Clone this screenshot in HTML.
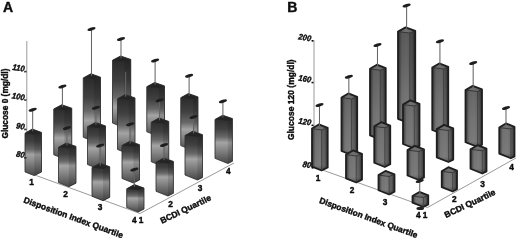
<!DOCTYPE html>
<html><head><meta charset="utf-8"><title>Figure</title>
<style>html,body{margin:0;padding:0;background:#fff}body{width:520px;height:243px;overflow:hidden}svg{display:block}</style>
</head><body>
<svg width="520" height="243" viewBox="0 0 520 243">
<defs>
<linearGradient id="edge" x1="0" y1="0" x2="1" y2="0"><stop offset="0" stop-color="#000" stop-opacity="0.55"/><stop offset="0.22" stop-color="#000" stop-opacity="0.05"/><stop offset="0.5" stop-color="#000" stop-opacity="0"/><stop offset="0.8" stop-color="#000" stop-opacity="0.1"/><stop offset="1" stop-color="#000" stop-opacity="0.5"/></linearGradient>
<linearGradient id="a14L" gradientUnits="userSpaceOnUse" x1="0" y1="56" x2="0" y2="127.75"><stop offset="0" stop-color="#262626"/><stop offset="0.35" stop-color="#404040"/><stop offset="0.57" stop-color="#686868"/><stop offset="0.71" stop-color="#a4a4a4"/><stop offset="0.84" stop-color="#7c7c7c"/><stop offset="1" stop-color="#484848"/></linearGradient>
<linearGradient id="a14R" gradientUnits="userSpaceOnUse" x1="0" y1="56" x2="0" y2="127.75"><stop offset="0" stop-color="#212121"/><stop offset="0.35" stop-color="#383838"/><stop offset="0.57" stop-color="#5a5a5a"/><stop offset="0.71" stop-color="#8f8f8f"/><stop offset="0.84" stop-color="#6c6c6c"/><stop offset="1" stop-color="#3f3f3f"/></linearGradient>
<linearGradient id="a13L" gradientUnits="userSpaceOnUse" x1="0" y1="73.75" x2="0" y2="141.5"><stop offset="0" stop-color="#262626"/><stop offset="0.35" stop-color="#404040"/><stop offset="0.55" stop-color="#686868"/><stop offset="0.69" stop-color="#a4a4a4"/><stop offset="0.83" stop-color="#7c7c7c"/><stop offset="1" stop-color="#484848"/></linearGradient>
<linearGradient id="a13R" gradientUnits="userSpaceOnUse" x1="0" y1="73.75" x2="0" y2="141.5"><stop offset="0" stop-color="#212121"/><stop offset="0.35" stop-color="#383838"/><stop offset="0.55" stop-color="#5a5a5a"/><stop offset="0.69" stop-color="#8f8f8f"/><stop offset="0.83" stop-color="#6c6c6c"/><stop offset="1" stop-color="#3f3f3f"/></linearGradient>
<linearGradient id="a24L" gradientUnits="userSpaceOnUse" x1="0" y1="82.5" x2="0" y2="136.5"><stop offset="0" stop-color="#262626"/><stop offset="0.31" stop-color="#404040"/><stop offset="0.49" stop-color="#686868"/><stop offset="0.61" stop-color="#a4a4a4"/><stop offset="0.79" stop-color="#7c7c7c"/><stop offset="1" stop-color="#484848"/></linearGradient>
<linearGradient id="a24R" gradientUnits="userSpaceOnUse" x1="0" y1="82.5" x2="0" y2="136.5"><stop offset="0" stop-color="#212121"/><stop offset="0.31" stop-color="#383838"/><stop offset="0.49" stop-color="#5a5a5a"/><stop offset="0.61" stop-color="#8f8f8f"/><stop offset="0.79" stop-color="#6c6c6c"/><stop offset="1" stop-color="#3f3f3f"/></linearGradient>
<linearGradient id="a12L" gradientUnits="userSpaceOnUse" x1="0" y1="104.75" x2="0" y2="159"><stop offset="0" stop-color="#262626"/><stop offset="0.31" stop-color="#404040"/><stop offset="0.49" stop-color="#686868"/><stop offset="0.61" stop-color="#a4a4a4"/><stop offset="0.79" stop-color="#7c7c7c"/><stop offset="1" stop-color="#484848"/></linearGradient>
<linearGradient id="a12R" gradientUnits="userSpaceOnUse" x1="0" y1="104.75" x2="0" y2="159"><stop offset="0" stop-color="#212121"/><stop offset="0.31" stop-color="#383838"/><stop offset="0.49" stop-color="#5a5a5a"/><stop offset="0.61" stop-color="#8f8f8f"/><stop offset="0.79" stop-color="#6c6c6c"/><stop offset="1" stop-color="#3f3f3f"/></linearGradient>
<linearGradient id="a23L" gradientUnits="userSpaceOnUse" x1="0" y1="94.5" x2="0" y2="154"><stop offset="0" stop-color="#262626"/><stop offset="0.32" stop-color="#404040"/><stop offset="0.52" stop-color="#686868"/><stop offset="0.65" stop-color="#a4a4a4"/><stop offset="0.81" stop-color="#7c7c7c"/><stop offset="1" stop-color="#484848"/></linearGradient>
<linearGradient id="a23R" gradientUnits="userSpaceOnUse" x1="0" y1="94.5" x2="0" y2="154"><stop offset="0" stop-color="#212121"/><stop offset="0.32" stop-color="#383838"/><stop offset="0.52" stop-color="#5a5a5a"/><stop offset="0.65" stop-color="#8f8f8f"/><stop offset="0.81" stop-color="#6c6c6c"/><stop offset="1" stop-color="#3f3f3f"/></linearGradient>
<linearGradient id="a34L" gradientUnits="userSpaceOnUse" x1="0" y1="93.5" x2="0" y2="150.5"><stop offset="0" stop-color="#262626"/><stop offset="0.32" stop-color="#404040"/><stop offset="0.51" stop-color="#686868"/><stop offset="0.63" stop-color="#a4a4a4"/><stop offset="0.8" stop-color="#7c7c7c"/><stop offset="1" stop-color="#484848"/></linearGradient>
<linearGradient id="a34R" gradientUnits="userSpaceOnUse" x1="0" y1="93.5" x2="0" y2="150.5"><stop offset="0" stop-color="#212121"/><stop offset="0.32" stop-color="#383838"/><stop offset="0.51" stop-color="#5a5a5a"/><stop offset="0.63" stop-color="#8f8f8f"/><stop offset="0.8" stop-color="#6c6c6c"/><stop offset="1" stop-color="#3f3f3f"/></linearGradient>
<linearGradient id="a11L" gradientUnits="userSpaceOnUse" x1="0" y1="129" x2="0" y2="175.6"><stop offset="0" stop-color="#262626"/><stop offset="0.27" stop-color="#404040"/><stop offset="0.44" stop-color="#686868"/><stop offset="0.55" stop-color="#a4a4a4"/><stop offset="0.75" stop-color="#7c7c7c"/><stop offset="1" stop-color="#484848"/></linearGradient>
<linearGradient id="a11R" gradientUnits="userSpaceOnUse" x1="0" y1="129" x2="0" y2="175.6"><stop offset="0" stop-color="#212121"/><stop offset="0.27" stop-color="#383838"/><stop offset="0.44" stop-color="#5a5a5a"/><stop offset="0.55" stop-color="#8f8f8f"/><stop offset="0.75" stop-color="#6c6c6c"/><stop offset="1" stop-color="#3f3f3f"/></linearGradient>
<linearGradient id="a22L" gradientUnits="userSpaceOnUse" x1="0" y1="122.5" x2="0" y2="169"><stop offset="0" stop-color="#262626"/><stop offset="0.27" stop-color="#404040"/><stop offset="0.44" stop-color="#686868"/><stop offset="0.55" stop-color="#a4a4a4"/><stop offset="0.75" stop-color="#7c7c7c"/><stop offset="1" stop-color="#484848"/></linearGradient>
<linearGradient id="a22R" gradientUnits="userSpaceOnUse" x1="0" y1="122.5" x2="0" y2="169"><stop offset="0" stop-color="#212121"/><stop offset="0.27" stop-color="#383838"/><stop offset="0.44" stop-color="#5a5a5a"/><stop offset="0.55" stop-color="#8f8f8f"/><stop offset="0.75" stop-color="#6c6c6c"/><stop offset="1" stop-color="#3f3f3f"/></linearGradient>
<linearGradient id="a33L" gradientUnits="userSpaceOnUse" x1="0" y1="118" x2="0" y2="166.5"><stop offset="0" stop-color="#262626"/><stop offset="0.28" stop-color="#404040"/><stop offset="0.45" stop-color="#686868"/><stop offset="0.57" stop-color="#a4a4a4"/><stop offset="0.76" stop-color="#7c7c7c"/><stop offset="1" stop-color="#484848"/></linearGradient>
<linearGradient id="a33R" gradientUnits="userSpaceOnUse" x1="0" y1="118" x2="0" y2="166.5"><stop offset="0" stop-color="#212121"/><stop offset="0.28" stop-color="#383838"/><stop offset="0.45" stop-color="#5a5a5a"/><stop offset="0.57" stop-color="#8f8f8f"/><stop offset="0.76" stop-color="#6c6c6c"/><stop offset="1" stop-color="#3f3f3f"/></linearGradient>
<linearGradient id="a44L" gradientUnits="userSpaceOnUse" x1="0" y1="115.2" x2="0" y2="163.5"><stop offset="0" stop-color="#262626"/><stop offset="0.28" stop-color="#404040"/><stop offset="0.45" stop-color="#686868"/><stop offset="0.57" stop-color="#a4a4a4"/><stop offset="0.76" stop-color="#7c7c7c"/><stop offset="1" stop-color="#484848"/></linearGradient>
<linearGradient id="a44R" gradientUnits="userSpaceOnUse" x1="0" y1="115.2" x2="0" y2="163.5"><stop offset="0" stop-color="#212121"/><stop offset="0.28" stop-color="#383838"/><stop offset="0.45" stop-color="#5a5a5a"/><stop offset="0.57" stop-color="#8f8f8f"/><stop offset="0.76" stop-color="#6c6c6c"/><stop offset="1" stop-color="#3f3f3f"/></linearGradient>
<linearGradient id="a21L" gradientUnits="userSpaceOnUse" x1="0" y1="143" x2="0" y2="186.7"><stop offset="0" stop-color="#262626"/><stop offset="0.26" stop-color="#404040"/><stop offset="0.42" stop-color="#686868"/><stop offset="0.52" stop-color="#a4a4a4"/><stop offset="0.74" stop-color="#7c7c7c"/><stop offset="1" stop-color="#484848"/></linearGradient>
<linearGradient id="a21R" gradientUnits="userSpaceOnUse" x1="0" y1="143" x2="0" y2="186.7"><stop offset="0" stop-color="#212121"/><stop offset="0.26" stop-color="#383838"/><stop offset="0.42" stop-color="#5a5a5a"/><stop offset="0.52" stop-color="#8f8f8f"/><stop offset="0.74" stop-color="#6c6c6c"/><stop offset="1" stop-color="#3f3f3f"/></linearGradient>
<linearGradient id="a32L" gradientUnits="userSpaceOnUse" x1="0" y1="141.25" x2="0" y2="183"><stop offset="0" stop-color="#262626"/><stop offset="0.25" stop-color="#404040"/><stop offset="0.4" stop-color="#686868"/><stop offset="0.5" stop-color="#a4a4a4"/><stop offset="0.72" stop-color="#7c7c7c"/><stop offset="1" stop-color="#484848"/></linearGradient>
<linearGradient id="a32R" gradientUnits="userSpaceOnUse" x1="0" y1="141.25" x2="0" y2="183"><stop offset="0" stop-color="#212121"/><stop offset="0.25" stop-color="#383838"/><stop offset="0.4" stop-color="#5a5a5a"/><stop offset="0.5" stop-color="#8f8f8f"/><stop offset="0.72" stop-color="#6c6c6c"/><stop offset="1" stop-color="#3f3f3f"/></linearGradient>
<linearGradient id="a43L" gradientUnits="userSpaceOnUse" x1="0" y1="131.25" x2="0" y2="180"><stop offset="0" stop-color="#262626"/><stop offset="0.28" stop-color="#404040"/><stop offset="0.46" stop-color="#686868"/><stop offset="0.57" stop-color="#a4a4a4"/><stop offset="0.76" stop-color="#7c7c7c"/><stop offset="1" stop-color="#484848"/></linearGradient>
<linearGradient id="a43R" gradientUnits="userSpaceOnUse" x1="0" y1="131.25" x2="0" y2="180"><stop offset="0" stop-color="#212121"/><stop offset="0.28" stop-color="#383838"/><stop offset="0.46" stop-color="#5a5a5a"/><stop offset="0.57" stop-color="#8f8f8f"/><stop offset="0.76" stop-color="#6c6c6c"/><stop offset="1" stop-color="#3f3f3f"/></linearGradient>
<linearGradient id="a31L" gradientUnits="userSpaceOnUse" x1="0" y1="163.3" x2="0" y2="200.7"><stop offset="0" stop-color="#262626"/><stop offset="0.25" stop-color="#404040"/><stop offset="0.4" stop-color="#686868"/><stop offset="0.5" stop-color="#a4a4a4"/><stop offset="0.72" stop-color="#7c7c7c"/><stop offset="1" stop-color="#484848"/></linearGradient>
<linearGradient id="a31R" gradientUnits="userSpaceOnUse" x1="0" y1="163.3" x2="0" y2="200.7"><stop offset="0" stop-color="#212121"/><stop offset="0.25" stop-color="#383838"/><stop offset="0.4" stop-color="#5a5a5a"/><stop offset="0.5" stop-color="#8f8f8f"/><stop offset="0.72" stop-color="#6c6c6c"/><stop offset="1" stop-color="#3f3f3f"/></linearGradient>
<linearGradient id="a42L" gradientUnits="userSpaceOnUse" x1="0" y1="158" x2="0" y2="196"><stop offset="0" stop-color="#262626"/><stop offset="0.25" stop-color="#404040"/><stop offset="0.4" stop-color="#686868"/><stop offset="0.5" stop-color="#a4a4a4"/><stop offset="0.72" stop-color="#7c7c7c"/><stop offset="1" stop-color="#484848"/></linearGradient>
<linearGradient id="a42R" gradientUnits="userSpaceOnUse" x1="0" y1="158" x2="0" y2="196"><stop offset="0" stop-color="#212121"/><stop offset="0.25" stop-color="#383838"/><stop offset="0.4" stop-color="#5a5a5a"/><stop offset="0.5" stop-color="#8f8f8f"/><stop offset="0.72" stop-color="#6c6c6c"/><stop offset="1" stop-color="#3f3f3f"/></linearGradient>
<linearGradient id="a41L" gradientUnits="userSpaceOnUse" x1="0" y1="184.6" x2="0" y2="212"><stop offset="0" stop-color="#262626"/><stop offset="0.25" stop-color="#404040"/><stop offset="0.4" stop-color="#686868"/><stop offset="0.5" stop-color="#a4a4a4"/><stop offset="0.72" stop-color="#7c7c7c"/><stop offset="1" stop-color="#484848"/></linearGradient>
<linearGradient id="a41R" gradientUnits="userSpaceOnUse" x1="0" y1="184.6" x2="0" y2="212"><stop offset="0" stop-color="#212121"/><stop offset="0.25" stop-color="#383838"/><stop offset="0.4" stop-color="#5a5a5a"/><stop offset="0.5" stop-color="#8f8f8f"/><stop offset="0.72" stop-color="#6c6c6c"/><stop offset="1" stop-color="#3f3f3f"/></linearGradient>
<linearGradient id="b14L" gradientUnits="userSpaceOnUse" x1="0" y1="27.4" x2="0" y2="123.5"><stop offset="0" stop-color="#484848"/><stop offset="0.04" stop-color="#5b5b5b"/><stop offset="0.38" stop-color="#666666"/><stop offset="0.69" stop-color="#747474"/><stop offset="0.95" stop-color="#7c7c7c"/><stop offset="1" stop-color="#545454"/></linearGradient>
<linearGradient id="b14R" gradientUnits="userSpaceOnUse" x1="0" y1="27.4" x2="0" y2="123.5"><stop offset="0" stop-color="#3e3e3e"/><stop offset="0.04" stop-color="#4e4e4e"/><stop offset="0.38" stop-color="#585858"/><stop offset="0.69" stop-color="#646464"/><stop offset="0.95" stop-color="#6b6b6b"/><stop offset="1" stop-color="#484848"/></linearGradient>
<linearGradient id="b13L" gradientUnits="userSpaceOnUse" x1="0" y1="64.65" x2="0" y2="139.5"><stop offset="0" stop-color="#484848"/><stop offset="0.05" stop-color="#626262"/><stop offset="0.2" stop-color="#666666"/><stop offset="0.6" stop-color="#747474"/><stop offset="0.93" stop-color="#7c7c7c"/><stop offset="1" stop-color="#545454"/></linearGradient>
<linearGradient id="b13R" gradientUnits="userSpaceOnUse" x1="0" y1="64.65" x2="0" y2="139.5"><stop offset="0" stop-color="#3e3e3e"/><stop offset="0.05" stop-color="#545454"/><stop offset="0.2" stop-color="#585858"/><stop offset="0.6" stop-color="#646464"/><stop offset="0.93" stop-color="#6b6b6b"/><stop offset="1" stop-color="#484848"/></linearGradient>
<linearGradient id="b24L" gradientUnits="userSpaceOnUse" x1="0" y1="63.4" x2="0" y2="134.5"><stop offset="0" stop-color="#484848"/><stop offset="0.06" stop-color="#646464"/><stop offset="0.16" stop-color="#666666"/><stop offset="0.58" stop-color="#747474"/><stop offset="0.93" stop-color="#7c7c7c"/><stop offset="1" stop-color="#545454"/></linearGradient>
<linearGradient id="b24R" gradientUnits="userSpaceOnUse" x1="0" y1="63.4" x2="0" y2="134.5"><stop offset="0" stop-color="#3e3e3e"/><stop offset="0.06" stop-color="#565656"/><stop offset="0.16" stop-color="#585858"/><stop offset="0.58" stop-color="#646464"/><stop offset="0.93" stop-color="#6b6b6b"/><stop offset="1" stop-color="#484848"/></linearGradient>
<linearGradient id="b12L" gradientUnits="userSpaceOnUse" x1="0" y1="93.4" x2="0" y2="155"><stop offset="0" stop-color="#484848"/><stop offset="0.03" stop-color="#666666"/><stop offset="0.06" stop-color="#676767"/><stop offset="0.51" stop-color="#747474"/><stop offset="0.92" stop-color="#7c7c7c"/><stop offset="1" stop-color="#545454"/></linearGradient>
<linearGradient id="b12R" gradientUnits="userSpaceOnUse" x1="0" y1="93.4" x2="0" y2="155"><stop offset="0" stop-color="#3e3e3e"/><stop offset="0.03" stop-color="#585858"/><stop offset="0.06" stop-color="#595959"/><stop offset="0.51" stop-color="#646464"/><stop offset="0.92" stop-color="#6b6b6b"/><stop offset="1" stop-color="#484848"/></linearGradient>
<linearGradient id="b23L" gradientUnits="userSpaceOnUse" x1="0" y1="100.4" x2="0" y2="148.5"><stop offset="0" stop-color="#484848"/><stop offset="0.08" stop-color="#6d6d6d"/><stop offset="0.38" stop-color="#747474"/><stop offset="0.9" stop-color="#7c7c7c"/><stop offset="1" stop-color="#545454"/></linearGradient>
<linearGradient id="b23R" gradientUnits="userSpaceOnUse" x1="0" y1="100.4" x2="0" y2="148.5"><stop offset="0" stop-color="#3e3e3e"/><stop offset="0.08" stop-color="#5e5e5e"/><stop offset="0.38" stop-color="#646464"/><stop offset="0.9" stop-color="#6b6b6b"/><stop offset="1" stop-color="#484848"/></linearGradient>
<linearGradient id="b34L" gradientUnits="userSpaceOnUse" x1="0" y1="85.9" x2="0" y2="147"><stop offset="0" stop-color="#484848"/><stop offset="0.02" stop-color="#666666"/><stop offset="0.07" stop-color="#676767"/><stop offset="0.51" stop-color="#747474"/><stop offset="0.92" stop-color="#7c7c7c"/><stop offset="1" stop-color="#545454"/></linearGradient>
<linearGradient id="b34R" gradientUnits="userSpaceOnUse" x1="0" y1="85.9" x2="0" y2="147"><stop offset="0" stop-color="#3e3e3e"/><stop offset="0.02" stop-color="#585858"/><stop offset="0.07" stop-color="#595959"/><stop offset="0.51" stop-color="#646464"/><stop offset="0.92" stop-color="#6b6b6b"/><stop offset="1" stop-color="#484848"/></linearGradient>
<linearGradient id="b11L" gradientUnits="userSpaceOnUse" x1="0" y1="124.4" x2="0" y2="170.5"><stop offset="0" stop-color="#484848"/><stop offset="0.09" stop-color="#6e6e6e"/><stop offset="0.35" stop-color="#747474"/><stop offset="0.89" stop-color="#7c7c7c"/><stop offset="1" stop-color="#545454"/></linearGradient>
<linearGradient id="b11R" gradientUnits="userSpaceOnUse" x1="0" y1="124.4" x2="0" y2="170.5"><stop offset="0" stop-color="#3e3e3e"/><stop offset="0.09" stop-color="#5f5f5f"/><stop offset="0.35" stop-color="#646464"/><stop offset="0.89" stop-color="#6b6b6b"/><stop offset="1" stop-color="#484848"/></linearGradient>
<linearGradient id="b22L" gradientUnits="userSpaceOnUse" x1="0" y1="122.15" x2="0" y2="167"><stop offset="0" stop-color="#484848"/><stop offset="0.09" stop-color="#6f6f6f"/><stop offset="0.33" stop-color="#747474"/><stop offset="0.89" stop-color="#7c7c7c"/><stop offset="1" stop-color="#545454"/></linearGradient>
<linearGradient id="b22R" gradientUnits="userSpaceOnUse" x1="0" y1="122.15" x2="0" y2="167"><stop offset="0" stop-color="#3e3e3e"/><stop offset="0.09" stop-color="#5f5f5f"/><stop offset="0.33" stop-color="#646464"/><stop offset="0.89" stop-color="#6b6b6b"/><stop offset="1" stop-color="#484848"/></linearGradient>
<linearGradient id="b33L" gradientUnits="userSpaceOnUse" x1="0" y1="124.9" x2="0" y2="162"><stop offset="0" stop-color="#484848"/><stop offset="0.11" stop-color="#737373"/><stop offset="0.19" stop-color="#747474"/><stop offset="0.87" stop-color="#7c7c7c"/><stop offset="1" stop-color="#545454"/></linearGradient>
<linearGradient id="b33R" gradientUnits="userSpaceOnUse" x1="0" y1="124.9" x2="0" y2="162"><stop offset="0" stop-color="#3e3e3e"/><stop offset="0.11" stop-color="#636363"/><stop offset="0.19" stop-color="#646464"/><stop offset="0.87" stop-color="#6b6b6b"/><stop offset="1" stop-color="#484848"/></linearGradient>
<linearGradient id="b44L" gradientUnits="userSpaceOnUse" x1="0" y1="123.4" x2="0" y2="158.25"><stop offset="0" stop-color="#484848"/><stop offset="0.11" stop-color="#747474"/><stop offset="0.14" stop-color="#747474"/><stop offset="0.86" stop-color="#7c7c7c"/><stop offset="1" stop-color="#545454"/></linearGradient>
<linearGradient id="b44R" gradientUnits="userSpaceOnUse" x1="0" y1="123.4" x2="0" y2="158.25"><stop offset="0" stop-color="#3e3e3e"/><stop offset="0.11" stop-color="#636363"/><stop offset="0.14" stop-color="#646464"/><stop offset="0.86" stop-color="#6b6b6b"/><stop offset="1" stop-color="#484848"/></linearGradient>
<linearGradient id="b21L" gradientUnits="userSpaceOnUse" x1="0" y1="150.4" x2="0" y2="182.5"><stop offset="0" stop-color="#484848"/><stop offset="0.07" stop-color="#747474"/><stop offset="0.12" stop-color="#757575"/><stop offset="0.84" stop-color="#7c7c7c"/><stop offset="1" stop-color="#545454"/></linearGradient>
<linearGradient id="b21R" gradientUnits="userSpaceOnUse" x1="0" y1="150.4" x2="0" y2="182.5"><stop offset="0" stop-color="#3e3e3e"/><stop offset="0.07" stop-color="#646464"/><stop offset="0.12" stop-color="#646464"/><stop offset="0.84" stop-color="#6b6b6b"/><stop offset="1" stop-color="#484848"/></linearGradient>
<linearGradient id="b32L" gradientUnits="userSpaceOnUse" x1="0" y1="145.9" x2="0" y2="180"><stop offset="0" stop-color="#484848"/><stop offset="0.12" stop-color="#747474"/><stop offset="0.12" stop-color="#747474"/><stop offset="0.85" stop-color="#7c7c7c"/><stop offset="1" stop-color="#545454"/></linearGradient>
<linearGradient id="b32R" gradientUnits="userSpaceOnUse" x1="0" y1="145.9" x2="0" y2="180"><stop offset="0" stop-color="#3e3e3e"/><stop offset="0.12" stop-color="#646464"/><stop offset="0.12" stop-color="#646464"/><stop offset="0.85" stop-color="#6b6b6b"/><stop offset="1" stop-color="#484848"/></linearGradient>
<linearGradient id="b43L" gradientUnits="userSpaceOnUse" x1="0" y1="145.15" x2="0" y2="173.5"><stop offset="0" stop-color="#484848"/><stop offset="0.14" stop-color="#767676"/><stop offset="0.82" stop-color="#7c7c7c"/><stop offset="1" stop-color="#545454"/></linearGradient>
<linearGradient id="b43R" gradientUnits="userSpaceOnUse" x1="0" y1="145.15" x2="0" y2="173.5"><stop offset="0" stop-color="#3e3e3e"/><stop offset="0.14" stop-color="#656565"/><stop offset="0.82" stop-color="#6b6b6b"/><stop offset="1" stop-color="#484848"/></linearGradient>
<linearGradient id="b31L" gradientUnits="userSpaceOnUse" x1="0" y1="170.9" x2="0" y2="194.5"><stop offset="0" stop-color="#484848"/><stop offset="0.17" stop-color="#777777"/><stop offset="0.79" stop-color="#7c7c7c"/><stop offset="1" stop-color="#545454"/></linearGradient>
<linearGradient id="b31R" gradientUnits="userSpaceOnUse" x1="0" y1="170.9" x2="0" y2="194.5"><stop offset="0" stop-color="#3e3e3e"/><stop offset="0.17" stop-color="#676767"/><stop offset="0.79" stop-color="#6b6b6b"/><stop offset="1" stop-color="#484848"/></linearGradient>
<linearGradient id="b42L" gradientUnits="userSpaceOnUse" x1="0" y1="167.15" x2="0" y2="191.5"><stop offset="0" stop-color="#484848"/><stop offset="0.16" stop-color="#777777"/><stop offset="0.79" stop-color="#7c7c7c"/><stop offset="1" stop-color="#545454"/></linearGradient>
<linearGradient id="b42R" gradientUnits="userSpaceOnUse" x1="0" y1="167.15" x2="0" y2="191.5"><stop offset="0" stop-color="#3e3e3e"/><stop offset="0.16" stop-color="#666666"/><stop offset="0.79" stop-color="#6b6b6b"/><stop offset="1" stop-color="#484848"/></linearGradient>
<linearGradient id="b41L" gradientUnits="userSpaceOnUse" x1="0" y1="191.9" x2="0" y2="207"><stop offset="0" stop-color="#484848"/><stop offset="0.26" stop-color="#7a7a7a"/><stop offset="0.67" stop-color="#7c7c7c"/><stop offset="1" stop-color="#545454"/></linearGradient>
<linearGradient id="b41R" gradientUnits="userSpaceOnUse" x1="0" y1="191.9" x2="0" y2="207"><stop offset="0" stop-color="#3e3e3e"/><stop offset="0.26" stop-color="#696969"/><stop offset="0.67" stop-color="#6b6b6b"/><stop offset="1" stop-color="#484848"/></linearGradient>
</defs>
<rect width="520" height="243" fill="#fff"/>
<g stroke="#9a9a9a" stroke-width="1" fill="none">
<line x1="26.8" y1="41" x2="26.8" y2="172"/>
<line x1="26.6" y1="172" x2="140" y2="213.5"/>
<line x1="140" y1="213.5" x2="234" y2="163"/>
<line x1="314" y1="40" x2="314" y2="167"/>
<line x1="314" y1="167" x2="427.5" y2="207.5"/>
<line x1="427.5" y1="207.5" x2="516" y2="158"/>
</g>
<polygon points="112.5,60.2 120.62,56 130.75,59.4 130.75,124.5 124.24,127.75 112.5,123.05" fill="url(#a14L)"/>
<polygon points="124.24,61.6 130.75,59.4 130.75,124.5 124.24,127.75" fill="url(#a14R)"/>
<polygon points="112.5,60.2 120.62,56 130.75,59.4 124.24,61.6" fill="#242424"/>
<polygon points="112.5,60.2 120.62,56 130.75,59.4 130.75,124.5 124.24,127.75 112.5,123.05" fill="none" stroke="#303030" stroke-opacity="0.85" stroke-width="1" stroke-linejoin="round"/>
<line x1="120.99" y1="39" x2="120.99" y2="58.2" stroke="#666" stroke-width="1.05"/>
<ellipse cx="120.99" cy="39" rx="4.2" ry="1.5" fill="#1e1e1e" transform="rotate(-18 120.99 39)"/>
<polygon points="83.25,77.95 90.88,73.75 100.5,77.15 100.5,138.18 93.87,141.5 83.25,137.25" fill="url(#a13L)"/>
<polygon points="93.87,79.35 100.5,77.15 100.5,138.18 93.87,141.5" fill="url(#a13R)"/>
<polygon points="83.25,77.95 90.88,73.75 100.5,77.15 93.87,79.35" fill="#242424"/>
<polygon points="83.25,77.95 90.88,73.75 100.5,77.15 100.5,138.18 93.87,141.5 83.25,137.25" fill="none" stroke="#303030" stroke-opacity="0.85" stroke-width="1" stroke-linejoin="round"/>
<line x1="91.49" y1="29" x2="91.49" y2="75.95" stroke="#666" stroke-width="1.05"/>
<ellipse cx="91.49" cy="29" rx="4.2" ry="1.5" fill="#1e1e1e" transform="rotate(-18 91.49 29)"/>
<polygon points="146.75,86.7 154.62,82.5 164.5,85.9 164.5,133.62 158.74,136.5 146.75,131.7" fill="url(#a24L)"/>
<polygon points="158.74,88.1 164.5,85.9 164.5,133.62 158.74,136.5" fill="url(#a24R)"/>
<polygon points="146.75,86.7 154.62,82.5 164.5,85.9 158.74,88.1" fill="#242424"/>
<polygon points="146.75,86.7 154.62,82.5 164.5,85.9 164.5,133.62 158.74,136.5 146.75,131.7" fill="none" stroke="#303030" stroke-opacity="0.85" stroke-width="1" stroke-linejoin="round"/>
<line x1="155.11" y1="60.5" x2="155.11" y2="84.7" stroke="#666" stroke-width="1.05"/>
<ellipse cx="155.11" cy="60.5" rx="4.2" ry="1.5" fill="#1e1e1e" transform="rotate(-18 155.11 60.5)"/>
<polygon points="53.75,108.95 61.75,104.75 71.75,108.15 71.75,155.29 64.33,159 53.75,154.77" fill="url(#a12L)"/>
<polygon points="64.33,110.35 71.75,108.15 71.75,155.29 64.33,159" fill="url(#a12R)"/>
<polygon points="53.75,108.95 61.75,104.75 71.75,108.15 64.33,110.35" fill="#242424"/>
<polygon points="53.75,108.95 61.75,104.75 71.75,108.15 71.75,155.29 64.33,159 53.75,154.77" fill="none" stroke="#303030" stroke-opacity="0.85" stroke-width="1" stroke-linejoin="round"/>
<line x1="62.42" y1="86.5" x2="62.42" y2="106.95" stroke="#666" stroke-width="1.05"/>
<ellipse cx="62.42" cy="86.5" rx="4.2" ry="1.5" fill="#1e1e1e" transform="rotate(-18 62.42 86.5)"/>
<polygon points="117.5,98.7 125.25,94.5 135,97.9 135,150.92 128.84,154 117.5,149.46" fill="url(#a23L)"/>
<polygon points="128.84,100.1 135,97.9 135,150.92 128.84,154" fill="url(#a23R)"/>
<polygon points="117.5,98.7 125.25,94.5 135,97.9 128.84,100.1" fill="#242424"/>
<polygon points="117.5,98.7 125.25,94.5 135,97.9 135,150.92 128.84,154 117.5,149.46" fill="none" stroke="#303030" stroke-opacity="0.85" stroke-width="1" stroke-linejoin="round"/>
<line x1="125.67" y1="71.75" x2="125.67" y2="96.7" stroke="#666" stroke-width="1.05"/>
<polygon points="180.75,97.7 188.38,93.5 198,96.9 198,147.98 192.96,150.5 180.75,145.62" fill="url(#a34L)"/>
<polygon points="192.96,99.1 198,96.9 198,147.98 192.96,150.5" fill="url(#a34R)"/>
<polygon points="180.75,97.7 188.38,93.5 198,96.9 192.96,99.1" fill="#242424"/>
<polygon points="180.75,97.7 188.38,93.5 198,96.9 198,147.98 192.96,150.5 180.75,145.62" fill="none" stroke="#303030" stroke-opacity="0.85" stroke-width="1" stroke-linejoin="round"/>
<line x1="189.11" y1="75.75" x2="189.11" y2="95.7" stroke="#666" stroke-width="1.05"/>
<ellipse cx="189.11" cy="75.75" rx="4.2" ry="1.5" fill="#1e1e1e" transform="rotate(-18 189.11 75.75)"/>
<polygon points="25,133.2 32.25,129 41.5,132.4 41.5,171.97 34.24,175.6 25,171.9" fill="url(#a11L)"/>
<polygon points="34.24,134.6 41.5,132.4 41.5,171.97 34.24,175.6" fill="url(#a11R)"/>
<polygon points="25,133.2 32.25,129 41.5,132.4 34.24,134.6" fill="#242424"/>
<polygon points="25,133.2 32.25,129 41.5,132.4 41.5,171.97 34.24,175.6 25,171.9" fill="none" stroke="#303030" stroke-opacity="0.85" stroke-width="1" stroke-linejoin="round"/>
<line x1="32.67" y1="109.75" x2="32.67" y2="131.2" stroke="#666" stroke-width="1.05"/>
<ellipse cx="32.67" cy="109.75" rx="4.2" ry="1.5" fill="#1e1e1e" transform="rotate(-18 32.67 109.75)"/>
<polygon points="87.5,126.7 95.5,122.5 105.5,125.9 105.5,165.58 98.66,169 87.5,164.54" fill="url(#a22L)"/>
<polygon points="98.66,128.1 105.5,125.9 105.5,165.58 98.66,169" fill="url(#a22R)"/>
<polygon points="87.5,126.7 95.5,122.5 105.5,125.9 98.66,128.1" fill="#242424"/>
<polygon points="87.5,126.7 95.5,122.5 105.5,125.9 105.5,165.58 98.66,169 87.5,164.54" fill="none" stroke="#303030" stroke-opacity="0.85" stroke-width="1" stroke-linejoin="round"/>
<line x1="95.92" y1="107.75" x2="95.92" y2="124.7" stroke="#666" stroke-width="1.05"/>
<ellipse cx="95.92" cy="107.75" rx="4.2" ry="1.5" fill="#1e1e1e" transform="rotate(-18 95.92 107.75)"/>
<polygon points="151.25,122.2 159,118 168.75,121.4 168.75,163.7 163.15,166.5 151.25,161.74" fill="url(#a33L)"/>
<polygon points="163.15,123.6 168.75,121.4 168.75,163.7 163.15,166.5" fill="url(#a33R)"/>
<polygon points="151.25,122.2 159,118 168.75,121.4 163.15,123.6" fill="#242424"/>
<polygon points="151.25,122.2 159,118 168.75,121.4 168.75,163.7 163.15,166.5 151.25,161.74" fill="none" stroke="#303030" stroke-opacity="0.85" stroke-width="1" stroke-linejoin="round"/>
<line x1="159.55" y1="100.25" x2="159.55" y2="120.2" stroke="#666" stroke-width="1.05"/>
<ellipse cx="159.55" cy="100.25" rx="4.2" ry="1.5" fill="#1e1e1e" transform="rotate(-18 159.55 100.25)"/>
<polygon points="215,119.4 222.7,115.2 232.4,118.6 232.4,161.24 227.88,163.5 215,158.35" fill="url(#a44L)"/>
<polygon points="227.88,120.8 232.4,118.6 232.4,161.24 227.88,163.5" fill="url(#a44R)"/>
<polygon points="215,119.4 222.7,115.2 232.4,118.6 227.88,120.8" fill="#242424"/>
<polygon points="215,119.4 222.7,115.2 232.4,118.6 232.4,161.24 227.88,163.5 215,158.35" fill="none" stroke="#303030" stroke-opacity="0.85" stroke-width="1" stroke-linejoin="round"/>
<line x1="222.9" y1="101.25" x2="222.9" y2="117.4" stroke="#666" stroke-width="1.05"/>
<ellipse cx="222.9" cy="101.25" rx="4.2" ry="1.5" fill="#1e1e1e" transform="rotate(-18 222.9 101.25)"/>
<polygon points="58.5,147.2 66.25,143 76,146.4 76,183.13 68.86,186.7 58.5,182.56" fill="url(#a21L)"/>
<polygon points="68.86,148.6 76,146.4 76,183.13 68.86,186.7" fill="url(#a21R)"/>
<polygon points="58.5,147.2 66.25,143 76,146.4 68.86,148.6" fill="#242424"/>
<polygon points="58.5,147.2 66.25,143 76,146.4 76,183.13 68.86,186.7 58.5,182.56" fill="none" stroke="#303030" stroke-opacity="0.85" stroke-width="1" stroke-linejoin="round"/>
<line x1="66.92" y1="128" x2="66.92" y2="145.2" stroke="#666" stroke-width="1.05"/>
<ellipse cx="66.92" cy="128" rx="4.2" ry="1.5" fill="#1e1e1e" transform="rotate(-18 66.92 128)"/>
<polygon points="122,145.45 129.75,141.25 139.5,144.65 139.5,179.96 133.41,183 122,178.43" fill="url(#a32L)"/>
<polygon points="133.41,146.85 139.5,144.65 139.5,179.96 133.41,183" fill="url(#a32R)"/>
<polygon points="122,145.45 129.75,141.25 139.5,144.65 133.41,146.85" fill="#242424"/>
<polygon points="122,145.45 129.75,141.25 139.5,144.65 139.5,179.96 133.41,183 122,178.43" fill="none" stroke="#303030" stroke-opacity="0.85" stroke-width="1" stroke-linejoin="round"/>
<line x1="130.18" y1="124.25" x2="130.18" y2="143.45" stroke="#666" stroke-width="1.05"/>
<ellipse cx="130.18" cy="124.25" rx="4.2" ry="1.5" fill="#1e1e1e" transform="rotate(-18 130.18 124.25)"/>
<polygon points="185,135.45 192.75,131.25 202.5,134.65 202.5,177.48 197.45,180 185,175.02" fill="url(#a43L)"/>
<polygon points="197.45,136.85 202.5,134.65 202.5,177.48 197.45,180" fill="url(#a43R)"/>
<polygon points="185,135.45 192.75,131.25 202.5,134.65 197.45,136.85" fill="#242424"/>
<polygon points="185,135.45 192.75,131.25 202.5,134.65 202.5,177.48 197.45,180 185,175.02" fill="none" stroke="#303030" stroke-opacity="0.85" stroke-width="1" stroke-linejoin="round"/>
<line x1="193.55" y1="117" x2="193.55" y2="133.45" stroke="#666" stroke-width="1.05"/>
<ellipse cx="193.55" cy="117" rx="4.2" ry="1.5" fill="#1e1e1e" transform="rotate(-18 193.55 117)"/>
<polygon points="92,167.5 99.85,163.3 109.7,166.7 109.7,197.37 103.04,200.7 92,196.28" fill="url(#a31L)"/>
<polygon points="103.04,168.9 109.7,166.7 109.7,197.37 103.04,200.7" fill="url(#a31R)"/>
<polygon points="92,167.5 99.85,163.3 109.7,166.7 103.04,168.9" fill="#242424"/>
<polygon points="92,167.5 99.85,163.3 109.7,166.7 109.7,197.37 103.04,200.7 92,196.28" fill="none" stroke="#303030" stroke-opacity="0.85" stroke-width="1" stroke-linejoin="round"/>
<line x1="100.22" y1="145.5" x2="100.22" y2="165.5" stroke="#666" stroke-width="1.05"/>
<ellipse cx="100.22" cy="145.5" rx="4.2" ry="1.5" fill="#1e1e1e" transform="rotate(-18 100.22 145.5)"/>
<polygon points="156,162.2 163.7,158 173.4,161.4 173.4,193.25 167.91,196 156,191.24" fill="url(#a42L)"/>
<polygon points="167.91,163.6 173.4,161.4 173.4,193.25 167.91,196" fill="url(#a42R)"/>
<polygon points="156,162.2 163.7,158 173.4,161.4 167.91,163.6" fill="#242424"/>
<polygon points="156,162.2 163.7,158 173.4,161.4 173.4,193.25 167.91,196 156,191.24" fill="none" stroke="#303030" stroke-opacity="0.85" stroke-width="1" stroke-linejoin="round"/>
<line x1="164.02" y1="145" x2="164.02" y2="160.2" stroke="#666" stroke-width="1.05"/>
<ellipse cx="164.02" cy="145" rx="4.2" ry="1.5" fill="#1e1e1e" transform="rotate(-18 164.02 145)"/>
<polygon points="126.7,188.8 134.35,184.6 144,188 144,209.03 138.06,212 126.7,207.46" fill="url(#a41L)"/>
<polygon points="138.06,190.2 144,188 144,209.03 138.06,212" fill="url(#a41R)"/>
<polygon points="126.7,188.8 134.35,184.6 144,188 138.06,190.2" fill="#242424"/>
<polygon points="126.7,188.8 134.35,184.6 144,188 144,209.03 138.06,212 126.7,207.46" fill="none" stroke="#303030" stroke-opacity="0.85" stroke-width="1" stroke-linejoin="round"/>
<line x1="134.35" y1="169.5" x2="134.35" y2="186.8" stroke="#666" stroke-width="1.05"/>
<ellipse cx="134.35" cy="169.5" rx="4.2" ry="1.5" fill="#1e1e1e" transform="rotate(-18 134.35 169.5)"/>
<polygon points="398,31.6 405.62,27.4 415.25,30.8 415.25,120.74 409.72,123.5 398,118.81" fill="url(#b14L)"/>
<polygon points="409.72,33 415.25,30.8 415.25,120.74 409.72,123.5" fill="url(#b14R)"/>
<polygon points="398,31.6 405.62,27.4 415.25,30.8 409.72,33" fill="#707070"/>
<polygon points="398,31.6 405.62,27.4 415.25,30.8 415.25,120.74 409.72,123.5 398,118.81" fill="url(#edge)"/>
<polygon points="398,31.6 405.62,27.4 415.25,30.8 415.25,120.74 409.72,123.5 398,118.81" fill="none" stroke="#1e1e1e" stroke-width="1.8" stroke-linejoin="round"/>
<polyline points="398,31.6 409.72,33 415.25,30.8" fill="none" stroke="#2a2a2a" stroke-width="0.8"/>
<line x1="409.72" y1="33" x2="409.72" y2="123.5" stroke="#383838" stroke-width="0.7"/>
<line x1="406.61" y1="5.5" x2="406.61" y2="29.6" stroke="#666" stroke-width="1.05"/>
<ellipse cx="406.61" cy="5.5" rx="4.2" ry="1.5" fill="#1e1e1e" transform="rotate(-18 406.61 5.5)"/>
<polygon points="370,68.85 376.88,64.65 385.75,68.05 385.75,136.8 380.34,139.5 370,135.36" fill="url(#b13L)"/>
<polygon points="380.34,70.25 385.75,68.05 385.75,136.8 380.34,139.5" fill="url(#b13R)"/>
<polygon points="370,68.85 376.88,64.65 385.75,68.05 380.34,70.25" fill="#707070"/>
<polygon points="370,68.85 376.88,64.65 385.75,68.05 385.75,136.8 380.34,139.5 370,135.36" fill="url(#edge)"/>
<polygon points="370,68.85 376.88,64.65 385.75,68.05 385.75,136.8 380.34,139.5 370,135.36" fill="none" stroke="#1e1e1e" stroke-width="1.8" stroke-linejoin="round"/>
<polyline points="370,68.85 380.34,70.25 385.75,68.05" fill="none" stroke="#2a2a2a" stroke-width="0.8"/>
<line x1="380.34" y1="70.25" x2="380.34" y2="139.5" stroke="#383838" stroke-width="0.7"/>
<line x1="377.49" y1="45" x2="377.49" y2="66.85" stroke="#666" stroke-width="1.05"/>
<ellipse cx="377.49" cy="45" rx="4.2" ry="1.5" fill="#1e1e1e" transform="rotate(-18 377.49 45)"/>
<polygon points="432.25,67.6 439.25,63.4 448.25,66.8 448.25,132.15 443.56,134.5 432.25,129.98" fill="url(#b24L)"/>
<polygon points="443.56,69 448.25,66.8 448.25,132.15 443.56,134.5" fill="url(#b24R)"/>
<polygon points="432.25,67.6 439.25,63.4 448.25,66.8 443.56,69" fill="#707070"/>
<polygon points="432.25,67.6 439.25,63.4 448.25,66.8 448.25,132.15 443.56,134.5 432.25,129.98" fill="url(#edge)"/>
<polygon points="432.25,67.6 439.25,63.4 448.25,66.8 448.25,132.15 443.56,134.5 432.25,129.98" fill="none" stroke="#1e1e1e" stroke-width="1.8" stroke-linejoin="round"/>
<polyline points="432.25,67.6 443.56,69 448.25,66.8" fill="none" stroke="#2a2a2a" stroke-width="0.8"/>
<line x1="443.56" y1="69" x2="443.56" y2="134.5" stroke="#383838" stroke-width="0.7"/>
<line x1="439.93" y1="41.25" x2="439.93" y2="65.6" stroke="#666" stroke-width="1.05"/>
<ellipse cx="439.93" cy="41.25" rx="4.2" ry="1.5" fill="#1e1e1e" transform="rotate(-18 439.93 41.25)"/>
<polygon points="341.5,97.6 348.35,93.4 357.2,96.8 357.2,152.12 351.45,155 341.5,151.02" fill="url(#b12L)"/>
<polygon points="351.45,99 357.2,96.8 357.2,152.12 351.45,155" fill="url(#b12R)"/>
<polygon points="341.5,97.6 348.35,93.4 357.2,96.8 351.45,99" fill="#707070"/>
<polygon points="341.5,97.6 348.35,93.4 357.2,96.8 357.2,152.12 351.45,155 341.5,151.02" fill="url(#edge)"/>
<polygon points="341.5,97.6 348.35,93.4 357.2,96.8 357.2,152.12 351.45,155 341.5,151.02" fill="none" stroke="#1e1e1e" stroke-width="1.8" stroke-linejoin="round"/>
<polyline points="341.5,97.6 351.45,99 357.2,96.8" fill="none" stroke="#2a2a2a" stroke-width="0.8"/>
<line x1="351.45" y1="99" x2="351.45" y2="155" stroke="#383838" stroke-width="0.7"/>
<line x1="348.85" y1="76.75" x2="348.85" y2="95.6" stroke="#666" stroke-width="1.05"/>
<ellipse cx="348.85" cy="76.75" rx="4.2" ry="1.5" fill="#1e1e1e" transform="rotate(-18 348.85 76.75)"/>
<polygon points="403,104.6 410.25,100.4 419.5,103.8 419.5,145.89 414.27,148.5 403,143.99" fill="url(#b23L)"/>
<polygon points="414.27,106 419.5,103.8 419.5,145.89 414.27,148.5" fill="url(#b23R)"/>
<polygon points="403,104.6 410.25,100.4 419.5,103.8 414.27,106" fill="#707070"/>
<polygon points="403,104.6 410.25,100.4 419.5,103.8 419.5,145.89 414.27,148.5 403,143.99" fill="url(#edge)"/>
<polygon points="403,104.6 410.25,100.4 419.5,103.8 419.5,145.89 414.27,148.5 403,143.99" fill="none" stroke="#1e1e1e" stroke-width="1.8" stroke-linejoin="round"/>
<polyline points="403,104.6 414.27,106 419.5,103.8" fill="none" stroke="#2a2a2a" stroke-width="0.8"/>
<line x1="414.27" y1="106" x2="414.27" y2="148.5" stroke="#383838" stroke-width="0.7"/>
<polygon points="465.5,90.1 472.75,85.9 482,89.3 482,144.8 477.6,147 465.5,142.16" fill="url(#b34L)"/>
<polygon points="477.6,91.5 482,89.3 482,144.8 477.6,147" fill="url(#b34R)"/>
<polygon points="465.5,90.1 472.75,85.9 482,89.3 477.6,91.5" fill="#707070"/>
<polygon points="465.5,90.1 472.75,85.9 482,89.3 482,144.8 477.6,147 465.5,142.16" fill="url(#edge)"/>
<polygon points="465.5,90.1 472.75,85.9 482,89.3 482,144.8 477.6,147 465.5,142.16" fill="none" stroke="#1e1e1e" stroke-width="1.8" stroke-linejoin="round"/>
<polyline points="465.5,90.1 477.6,91.5 482,89.3" fill="none" stroke="#2a2a2a" stroke-width="0.8"/>
<line x1="477.6" y1="91.5" x2="477.6" y2="147" stroke="#383838" stroke-width="0.7"/>
<line x1="473.18" y1="63" x2="473.18" y2="88.1" stroke="#666" stroke-width="1.05"/>
<ellipse cx="473.18" cy="63" rx="4.2" ry="1.5" fill="#1e1e1e" transform="rotate(-18 473.18 63)"/>
<polygon points="312,128.6 318.85,124.4 327.7,127.8 327.7,167.44 321.58,170.5 312,166.67" fill="url(#b11L)"/>
<polygon points="321.58,130 327.7,127.8 327.7,167.44 321.58,170.5" fill="url(#b11R)"/>
<polygon points="312,128.6 318.85,124.4 327.7,127.8 321.58,130" fill="#707070"/>
<polygon points="312,128.6 318.85,124.4 327.7,127.8 327.7,167.44 321.58,170.5 312,166.67" fill="url(#edge)"/>
<polygon points="312,128.6 318.85,124.4 327.7,127.8 327.7,167.44 321.58,170.5 312,166.67" fill="none" stroke="#1e1e1e" stroke-width="1.8" stroke-linejoin="round"/>
<polyline points="312,128.6 321.58,130 327.7,127.8" fill="none" stroke="#2a2a2a" stroke-width="0.8"/>
<line x1="321.58" y1="130" x2="321.58" y2="170.5" stroke="#383838" stroke-width="0.7"/>
<line x1="319.48" y1="105" x2="319.48" y2="126.6" stroke="#666" stroke-width="1.05"/>
<ellipse cx="319.48" cy="105" rx="4.2" ry="1.5" fill="#1e1e1e" transform="rotate(-18 319.48 105)"/>
<polygon points="374.25,126.35 381.25,122.15 390.25,125.55 390.25,164.28 384.81,167 374.25,162.78" fill="url(#b22L)"/>
<polygon points="384.81,127.75 390.25,125.55 390.25,164.28 384.81,167" fill="url(#b22R)"/>
<polygon points="374.25,126.35 381.25,122.15 390.25,125.55 384.81,127.75" fill="#707070"/>
<polygon points="374.25,126.35 381.25,122.15 390.25,125.55 390.25,164.28 384.81,167 374.25,162.78" fill="url(#edge)"/>
<polygon points="374.25,126.35 381.25,122.15 390.25,125.55 390.25,164.28 384.81,167 374.25,162.78" fill="none" stroke="#1e1e1e" stroke-width="1.8" stroke-linejoin="round"/>
<polyline points="374.25,126.35 384.81,127.75 390.25,125.55" fill="none" stroke="#2a2a2a" stroke-width="0.8"/>
<line x1="384.81" y1="127.75" x2="384.81" y2="167" stroke="#383838" stroke-width="0.7"/>
<polygon points="436.75,129.1 444,124.9 453.25,128.3 453.25,159.61 448.47,162 436.75,157.31" fill="url(#b33L)"/>
<polygon points="448.47,130.5 453.25,128.3 453.25,159.61 448.47,162" fill="url(#b33R)"/>
<polygon points="436.75,129.1 444,124.9 453.25,128.3 448.47,130.5" fill="#707070"/>
<polygon points="436.75,129.1 444,124.9 453.25,128.3 453.25,159.61 448.47,162 436.75,157.31" fill="url(#edge)"/>
<polygon points="436.75,129.1 444,124.9 453.25,128.3 453.25,159.61 448.47,162 436.75,157.31" fill="none" stroke="#1e1e1e" stroke-width="1.8" stroke-linejoin="round"/>
<polyline points="436.75,129.1 448.47,130.5 453.25,128.3" fill="none" stroke="#2a2a2a" stroke-width="0.8"/>
<line x1="448.47" y1="130.5" x2="448.47" y2="162" stroke="#383838" stroke-width="0.7"/>
<polygon points="499.25,127.6 505.88,123.4 514.5,126.8 514.5,156.42 510.84,158.25 499.25,153.61" fill="url(#b44L)"/>
<polygon points="510.84,129 514.5,126.8 514.5,156.42 510.84,158.25" fill="url(#b44R)"/>
<polygon points="499.25,127.6 505.88,123.4 514.5,126.8 510.84,129" fill="#707070"/>
<polygon points="499.25,127.6 505.88,123.4 514.5,126.8 514.5,156.42 510.84,158.25 499.25,153.61" fill="url(#edge)"/>
<polygon points="499.25,127.6 505.88,123.4 514.5,126.8 514.5,156.42 510.84,158.25 499.25,153.61" fill="none" stroke="#1e1e1e" stroke-width="1.8" stroke-linejoin="round"/>
<polyline points="499.25,127.6 510.84,129 514.5,126.8" fill="none" stroke="#2a2a2a" stroke-width="0.8"/>
<line x1="510.84" y1="129" x2="510.84" y2="158.25" stroke="#383838" stroke-width="0.7"/>
<line x1="505.99" y1="108" x2="505.99" y2="125.6" stroke="#666" stroke-width="1.05"/>
<ellipse cx="505.99" cy="108" rx="4.2" ry="1.5" fill="#1e1e1e" transform="rotate(-18 505.99 108)"/>
<polygon points="346,154.6 353,150.4 362,153.8 362,179.6 356.2,182.5 346,178.42" fill="url(#b21L)"/>
<polygon points="356.2,156 362,153.8 362,179.6 356.2,182.5" fill="url(#b21R)"/>
<polygon points="346,154.6 353,150.4 362,153.8 356.2,156" fill="#707070"/>
<polygon points="346,154.6 353,150.4 362,153.8 362,179.6 356.2,182.5 346,178.42" fill="url(#edge)"/>
<polygon points="346,154.6 353,150.4 362,153.8 362,179.6 356.2,182.5 346,178.42" fill="none" stroke="#1e1e1e" stroke-width="1.8" stroke-linejoin="round"/>
<polyline points="346,154.6 356.2,156 362,153.8" fill="none" stroke="#2a2a2a" stroke-width="0.8"/>
<line x1="356.2" y1="156" x2="356.2" y2="182.5" stroke="#383838" stroke-width="0.7"/>
<polygon points="407.5,150.1 414.75,145.9 424,149.3 424,177.42 418.83,180 407.5,175.47" fill="url(#b32L)"/>
<polygon points="418.83,151.5 424,149.3 424,177.42 418.83,180" fill="url(#b32R)"/>
<polygon points="407.5,150.1 414.75,145.9 424,149.3 418.83,151.5" fill="#707070"/>
<polygon points="407.5,150.1 414.75,145.9 424,149.3 424,177.42 418.83,180 407.5,175.47" fill="url(#edge)"/>
<polygon points="407.5,150.1 414.75,145.9 424,149.3 424,177.42 418.83,180 407.5,175.47" fill="none" stroke="#1e1e1e" stroke-width="1.8" stroke-linejoin="round"/>
<polyline points="407.5,150.1 418.83,151.5 424,149.3" fill="none" stroke="#2a2a2a" stroke-width="0.8"/>
<line x1="418.83" y1="151.5" x2="418.83" y2="180" stroke="#383838" stroke-width="0.7"/>
<polygon points="470.5,149.35 477.5,145.15 486.5,148.55 486.5,171.4 482.3,173.5 470.5,168.78" fill="url(#b43L)"/>
<polygon points="482.3,150.75 486.5,148.55 486.5,171.4 482.3,173.5" fill="url(#b43R)"/>
<polygon points="470.5,149.35 477.5,145.15 486.5,148.55 482.3,150.75" fill="#707070"/>
<polygon points="470.5,149.35 477.5,145.15 486.5,148.55 486.5,171.4 482.3,173.5 470.5,168.78" fill="url(#edge)"/>
<polygon points="470.5,149.35 477.5,145.15 486.5,148.55 486.5,171.4 482.3,173.5 470.5,168.78" fill="none" stroke="#1e1e1e" stroke-width="1.8" stroke-linejoin="round"/>
<polyline points="470.5,149.35 482.3,150.75 486.5,148.55" fill="none" stroke="#2a2a2a" stroke-width="0.8"/>
<line x1="482.3" y1="150.75" x2="482.3" y2="173.5" stroke="#383838" stroke-width="0.7"/>
<polygon points="378.5,175.1 385.5,170.9 394.5,174.3 394.5,191.81 389.12,194.5 378.5,190.25" fill="url(#b31L)"/>
<polygon points="389.12,176.5 394.5,174.3 394.5,191.81 389.12,194.5" fill="url(#b31R)"/>
<polygon points="378.5,175.1 385.5,170.9 394.5,174.3 389.12,176.5" fill="#707070"/>
<polygon points="378.5,175.1 385.5,170.9 394.5,174.3 394.5,191.81 389.12,194.5 378.5,190.25" fill="url(#edge)"/>
<polygon points="378.5,175.1 385.5,170.9 394.5,174.3 394.5,191.81 389.12,194.5 378.5,190.25" fill="none" stroke="#1e1e1e" stroke-width="1.8" stroke-linejoin="round"/>
<polyline points="378.5,175.1 389.12,176.5 394.5,174.3" fill="none" stroke="#2a2a2a" stroke-width="0.8"/>
<line x1="389.12" y1="176.5" x2="389.12" y2="194.5" stroke="#383838" stroke-width="0.7"/>
<polygon points="441.75,171.35 448.38,167.15 457,170.55 457,189.32 452.64,191.5 441.75,187.15" fill="url(#b42L)"/>
<polygon points="452.64,172.75 457,170.55 457,189.32 452.64,191.5" fill="url(#b42R)"/>
<polygon points="441.75,171.35 448.38,167.15 457,170.55 452.64,172.75" fill="#707070"/>
<polygon points="441.75,171.35 448.38,167.15 457,170.55 457,189.32 452.64,191.5 441.75,187.15" fill="url(#edge)"/>
<polygon points="441.75,171.35 448.38,167.15 457,170.55 457,189.32 452.64,191.5 441.75,187.15" fill="none" stroke="#1e1e1e" stroke-width="1.8" stroke-linejoin="round"/>
<polyline points="441.75,171.35 452.64,172.75 457,170.55" fill="none" stroke="#2a2a2a" stroke-width="0.8"/>
<line x1="452.64" y1="172.75" x2="452.64" y2="191.5" stroke="#383838" stroke-width="0.7"/>
<polygon points="412.5,196.1 419.38,191.9 428.25,195.3 428.25,204.56 423.38,207 412.5,202.65" fill="url(#b41L)"/>
<polygon points="423.38,197.5 428.25,195.3 428.25,204.56 423.38,207" fill="url(#b41R)"/>
<polygon points="412.5,196.1 419.38,191.9 428.25,195.3 423.38,197.5" fill="#707070"/>
<polygon points="412.5,196.1 419.38,191.9 428.25,195.3 428.25,204.56 423.38,207 412.5,202.65" fill="url(#edge)"/>
<polygon points="412.5,196.1 419.38,191.9 428.25,195.3 428.25,204.56 423.38,207 412.5,202.65" fill="none" stroke="#1e1e1e" stroke-width="1.8" stroke-linejoin="round"/>
<polyline points="412.5,196.1 423.38,197.5 428.25,195.3" fill="none" stroke="#2a2a2a" stroke-width="0.8"/>
<line x1="423.38" y1="197.5" x2="423.38" y2="207" stroke="#383838" stroke-width="0.7"/>
<line x1="419.74" y1="181" x2="419.74" y2="194.1" stroke="#666" stroke-width="1.05"/>
<ellipse cx="419.74" cy="181" rx="4.2" ry="1.5" fill="#1e1e1e" transform="rotate(-18 419.74 181)"/>
<ellipse cx="420.2" cy="208.4" rx="3.8" ry="1.6" fill="#222"/>
<g font-family="'Liberation Sans', Arial, Helvetica, sans-serif" font-weight="bold" fill="#0c0c0c" stroke="#0c0c0c" stroke-width="0.4">
<text x="2.9" y="11.5" font-size="14">A</text>
<text x="287.2" y="11.8" font-size="14">B</text>
<text transform="translate(24.1 71.8) rotate(10) scale(0.92 1)" font-size="8.3" font-style="italic" text-anchor="end">110</text>
<rect x="24.7" y="71" width="1.5" height="1.1" fill="#555"/>
<text transform="translate(24.1 100.5) rotate(10) scale(0.92 1)" font-size="8.3" font-style="italic" text-anchor="end">100</text>
<rect x="24.7" y="99.7" width="1.5" height="1.1" fill="#555"/>
<text transform="translate(24.1 129.7) rotate(10) scale(0.92 1)" font-size="8.3" font-style="italic" text-anchor="end">90</text>
<rect x="24.7" y="128.9" width="1.5" height="1.1" fill="#555"/>
<text transform="translate(24.1 158) rotate(10) scale(0.92 1)" font-size="8.3" font-style="italic" text-anchor="end">80</text>
<rect x="24.7" y="157.2" width="1.5" height="1.1" fill="#555"/>
<text transform="translate(310.6 41.4) rotate(10) scale(0.92 1)" font-size="8.3" font-style="italic" text-anchor="end">200</text>
<rect x="311.8" y="40.6" width="1.5" height="1.1" fill="#555"/>
<text transform="translate(310.6 82.8) rotate(10) scale(0.92 1)" font-size="8.3" font-style="italic" text-anchor="end">160</text>
<rect x="311.8" y="82" width="1.5" height="1.1" fill="#555"/>
<text transform="translate(310.6 125.6) rotate(10) scale(0.92 1)" font-size="8.3" font-style="italic" text-anchor="end">120</text>
<rect x="311.8" y="124.8" width="1.5" height="1.1" fill="#555"/>
<text transform="translate(310.6 168.3) rotate(10) scale(0.92 1)" font-size="8.3" font-style="italic" text-anchor="end">80</text>
<rect x="311.8" y="167.5" width="1.5" height="1.1" fill="#555"/>
<text transform="translate(7.7 138.6) rotate(-90)" font-size="8.35">Glucose 0 (mg/dl)</text>
<text transform="translate(294.1 140.1) rotate(-90)" font-size="8.5">Glucose 120 (mg/dl)</text>
<text x="31.5" y="185" font-size="8.3" text-anchor="middle">1</text>
<text x="65.5" y="196.6" font-size="8.3" text-anchor="middle">2</text>
<text x="100" y="209.6" font-size="8.3" text-anchor="middle">3</text>
<text x="134.2" y="222.5" font-size="8.3" text-anchor="middle">4</text>
<text x="141" y="222.5" font-size="8.3" text-anchor="middle">1</text>
<text x="170.5" y="206.6" font-size="8.3" text-anchor="middle">2</text>
<text x="200" y="190.5" font-size="8.3" text-anchor="middle">3</text>
<text x="228.25" y="174.25" font-size="8.3" text-anchor="middle">4</text>
<text x="318" y="181" font-size="8.3" text-anchor="middle">1</text>
<text x="352" y="193" font-size="8.3" text-anchor="middle">2</text>
<text x="385" y="204.5" font-size="8.3" text-anchor="middle">3</text>
<text x="418.25" y="217.6" font-size="8.3" text-anchor="middle">4</text>
<text x="425" y="217.6" font-size="8.3" text-anchor="middle">1</text>
<text x="454.25" y="202.4" font-size="8.3" text-anchor="middle">2</text>
<text x="482.5" y="186.75" font-size="8.3" text-anchor="middle">3</text>
<text x="511.5" y="169.75" font-size="8.3" text-anchor="middle">4</text>
<text transform="translate(23.0 202.3) rotate(20)" font-size="8.5">Disposition Index Quartile</text>
<text transform="translate(162 223.7) rotate(-25.6)" font-size="8.5">BCDI Quartile</text>
<text transform="translate(318.8 202.8) rotate(19.85)" font-size="8.4">Disposition Index Quartile</text>
<text transform="translate(446.1 217.9) rotate(-25.3)" font-size="8.5">BCDI Quartile</text>
</g>
</svg>
</body></html>
